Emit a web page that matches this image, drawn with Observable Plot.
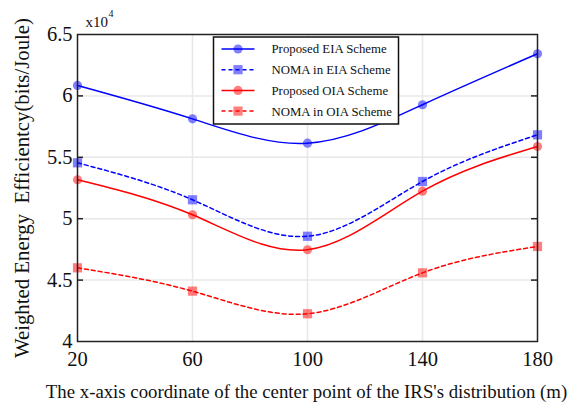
<!DOCTYPE html>
<html>
<head>
<meta charset="utf-8">
<script src="https://cdn.jsdelivr.net/npm/d3@7"></script>
<script src="https://cdn.jsdelivr.net/npm/@observablehq/plot@0.6"></script>
<style>
  html, body { margin: 0; padding: 0; background: #fff; }
  #chart { position: relative; width: 570px; height: 403px; }
  svg { font-family: "Liberation Serif", "Times New Roman", serif; }
</style>
</head>
<body>
<div id="chart"></div>
<script>
// ---- data ----
const xValues = [20, 60, 100, 140, 180];
const proposedEIA = [6.085, 5.813, 5.615, 5.928, 6.343];
const nomaEIA     = [5.455, 5.154, 4.857, 5.303, 5.683];
const proposedOIA = [5.317, 5.032, 4.747, 5.224, 5.588];
const nomaOIA     = [4.600, 4.410, 4.226, 4.559, 4.774];
const seriesNames = ["Proposed EIA Scheme", "NOMA in EIA Scheme", "Proposed OIA Scheme", "NOMA in OIA Scheme"];
const xTicks = [20, 60, 100, 140, 180];
const yTicks = [4, 4.5, 5, 5.5, 6, 6.5];
const xLabel = "The x-axis coordinate of the center point of the IRS's distribution (m)";
const yLabel = "Weighted Energy  Efficientcy(bits/Joule)";

const seriesStyle = [
  {color: "#0000ff", dash: null, symbol: "circle"},
  {color: "#0000ff", dash: "4,3", symbol: "square"},
  {color: "#ff0000", dash: null, symbol: "circle"},
  {color: "#ff0000", dash: "4,3", symbol: "square"}
];
const seriesValues = [proposedEIA, nomaEIA, proposedOIA, nomaOIA];

const rows = [];
seriesValues.forEach((vals, i) => vals.forEach((v, j) => rows.push({series: seriesNames[i], idx: i, x: xValues[j], y: v})));

const W = 570, H = 403;
const mL = 77, mR = 33, mT = 34, mB = 62;
const innerW = W - mL - mR;
const font = '"Liberation Serif", "Times New Roman", serif';

const marks = [
  Plot.gridX(xTicks.slice(1, -1), {stroke: "#e8e8e8", strokeOpacity: 1, strokeWidth: 1.5}),
  Plot.gridY(yTicks.slice(1, -1), {stroke: "#e8e8e8", strokeOpacity: 1, strokeWidth: 1.5}),
  Plot.tickY(yTicks.slice(1, -1), {y: d => d, insetRight: innerW - 6, stroke: "#222", strokeWidth: 1.5}),
  Plot.tickY(yTicks.slice(1, -1), {y: d => d, insetLeft: innerW - 6, stroke: "#222", strokeWidth: 1.5}),
  Plot.axisY({ticks: yTicks, tickSize: 0, tickPadding: 5, fontSize: 20.5, label: null, tickFormat: d => String(d)}),
  Plot.axisX({ticks: xTicks, tickSize: 0, tickPadding: 10, fontSize: 20.5, label: null, tickFormat: d => String(d)})
];
seriesValues.forEach((vals, i) => {
  const st = seriesStyle[i];
  const data = rows.filter(r => r.idx === i);
  marks.push(Plot.line(data, {x: "x", y: "y", stroke: st.color, strokeWidth: 1.5, strokeDasharray: st.dash, curve: "natural"}));
});
seriesValues.forEach((vals, i) => {
  const st = seriesStyle[i];
  const data = rows.filter(r => r.idx === i);
  marks.push(Plot.dot(data, {x: "x", y: "y", symbol: st.symbol, r: st.symbol === "square" ? 5.2 : 4.6, fill: st.color, fillOpacity: 0.5, stroke: "none"}));
});
marks.push(
  Plot.frame({stroke: "#222", strokeWidth: 1.5}),
  Plot.text([xLabel], {text: d => d, frameAnchor: "bottom", textAnchor: "middle", dx: -1, dy: 56, fontSize: 18.8, fill: "#111"}),
  Plot.text([yLabel], {text: d => d, frameAnchor: "left", textAnchor: "middle", rotate: -90, dx: -55, fontSize: 20.8, fill: "#111"}),
  Plot.text(["x10"], {text: d => d, frameAnchor: "top-left", textAnchor: "start", dx: 8, dy: -18, fontSize: 15, fill: "#111"}),
  Plot.text(["4"], {text: d => d, frameAnchor: "top-left", textAnchor: "start", dx: 31, dy: -25, fontSize: 10, fill: "#111"})
);

const plot = Plot.plot({
  width: W, height: H,
  marginLeft: mL, marginRight: mR, marginTop: mT, marginBottom: mB,
  style: {fontFamily: font, color: "#111", background: "#fff"},
  x: {domain: [20, 180]},
  y: {domain: [4, 6.5]},
  marks
});
document.getElementById("chart").appendChild(plot);

// ---- legend ----
const svg = d3.select(plot);
const lg = svg.append("g").attr("transform", "translate(213.5,37)");
lg.append("rect").attr("width", 185).attr("height", 87).attr("fill", "#fff").attr("stroke", "#111").attr("stroke-width", 1.5);
seriesNames.forEach((name, i) => {
  const st = seriesStyle[i];
  const y = 12 + i * 20.7;
  const g = lg.append("g").attr("transform", `translate(0,${y})`);
  g.append("line").attr("x1", 8).attr("x2", 41).attr("y1", 0).attr("y2", 0)
    .attr("stroke", st.color).attr("stroke-width", 1.5).attr("stroke-dasharray", st.dash);
  if (st.symbol === "circle") {
    g.append("circle").attr("cx", 24.5).attr("cy", 0).attr("r", 4.6).attr("fill", st.color).attr("fill-opacity", 0.5);
  } else {
    g.append("rect").attr("x", 24.5 - 4.6).attr("y", -4.6).attr("width", 9.2).attr("height", 9.2).attr("fill", st.color).attr("fill-opacity", 0.5);
  }
  g.append("text").attr("x", 58).attr("y", 0).attr("dy", "0.35em").attr("text-anchor", "start")
    .attr("font-size", 12.8).attr("fill", "#111").text(name);
});
</script>
</body>
</html>
